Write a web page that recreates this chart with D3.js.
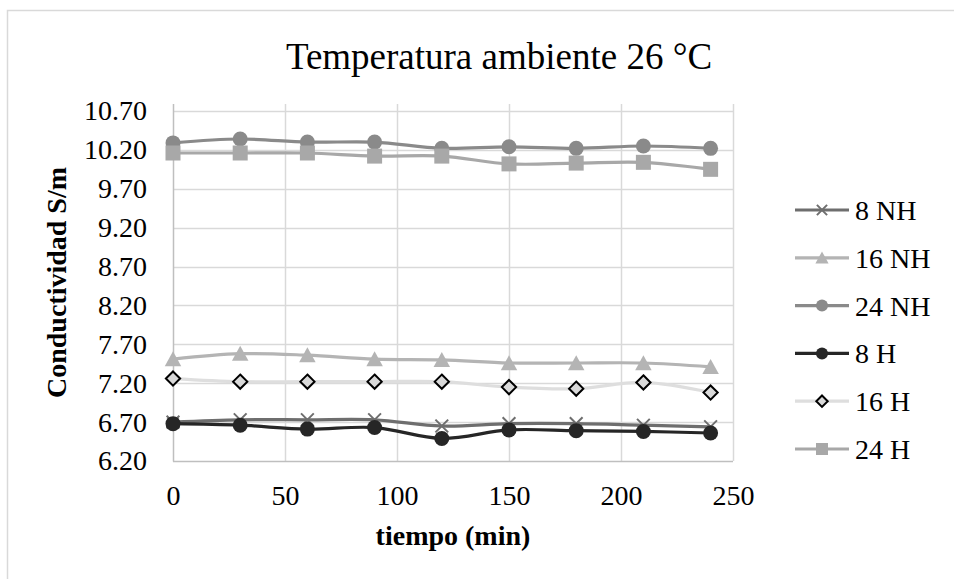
<!DOCTYPE html>
<html>
<head>
<meta charset="utf-8">
<script src="https://cdn.jsdelivr.net/npm/d3@7"></script>
<style>
  html, body { margin: 0; padding: 0; background: #fff; }
</style>
</head>
<body>
<svg id="chart" width="954" height="579"></svg>
<script>
// Conductividad vs tiempo, temperatura ambiente 26 °C
const tiempo = [0, 30, 60, 90, 120, 150, 180, 210, 240];

const serie8NH  = [6.70, 6.73, 6.73, 6.73, 6.65, 6.68, 6.68, 6.66, 6.64];
const serie16NH = [7.51, 7.58, 7.56, 7.51, 7.50, 7.46, 7.46, 7.46, 7.41];
const serie24NH = [10.29, 10.34, 10.30, 10.30, 10.22, 10.24, 10.22, 10.25, 10.22];
const serie8H   = [6.68, 6.66, 6.61, 6.63, 6.49, 6.60, 6.59, 6.58, 6.56];
const serie16H  = [7.26, 7.22, 7.22, 7.22, 7.22, 7.15, 7.13, 7.21, 7.08];
const serie24H  = [10.16, 10.16, 10.16, 10.12, 10.12, 10.02, 10.03, 10.04, 9.95];

const nombres = ["8 NH", "16 NH", "24 NH", "8 H", "16 H", "24 H"];
const yTicks = [6.20, 6.70, 7.20, 7.70, 8.20, 8.70, 9.20, 9.70, 10.20, 10.70];
const xTicks = [0, 50, 100, 150, 200, 250];

const series = [
  { name: nombres[0], values: serie8NH,  line: "#6e6e6e", marker: "cross" },
  { name: nombres[1], values: serie16NH, line: "#b4b4b4", marker: "triangle" },
  { name: nombres[2], values: serie24NH, line: "#8a8a8a", marker: "circle", fill: "#8a8a8a" },
  { name: nombres[3], values: serie8H,   line: "#262626", marker: "circle", fill: "#262626" },
  { name: nombres[4], values: serie16H,  line: "#dedede", marker: "diamond" },
  { name: nombres[5], values: serie24H,  line: "#a8a8a8", marker: "square", fill: "#a8a8a8" }
];

const FONT = "'Liberation Serif', 'Times New Roman', Times, serif";
const svg = d3.select("#chart");

// chart frame
svg.append("rect").attr("x", 7.5).attr("y", 10.5).attr("width", 1000).attr("height", 1000)
  .attr("fill", "none").attr("stroke", "#d9d9d9").attr("stroke-width", 1.5);

const plot = { left: 173, right: 733, top: 104, bottom: 461 };

const x = d3.scaleLinear().domain([0, 250]).range([plot.left, plot.right]);
const y = d3.scaleLinear().domain([6.20, 10.79]).range([plot.bottom, plot.top]);

// gridlines
svg.append("g").selectAll("line").data(yTicks.slice(1)).join("line")
  .attr("x1", plot.left).attr("x2", plot.right)
  .attr("y1", d => Math.round(y(d)) + 0.5).attr("y2", d => Math.round(y(d)) + 0.5)
  .attr("stroke", "#d9d9d9").attr("stroke-width", 1.5);
svg.append("g").selectAll("line").data(xTicks.slice(1)).join("line")
  .attr("x1", d => Math.round(x(d)) + 0.5).attr("x2", d => Math.round(x(d)) + 0.5)
  .attr("y1", plot.top).attr("y2", plot.bottom)
  .attr("stroke", "#d9d9d9").attr("stroke-width", 1.5);

// axes
const yAxis = d3.axisLeft(y).tickValues(yTicks).tickFormat(d3.format(".2f")).tickSize(0).tickPadding(26);
const gy = svg.append("g").attr("transform", `translate(${plot.left},0)`).call(yAxis)
  .attr("font-family", FONT).attr("font-size", 28);
gy.select(".domain").attr("stroke", "#bfbfbf").attr("stroke-width", 1.5).attr("d", `M0.5,${plot.top}V${plot.bottom + 0.5}`);
gy.selectAll("text").attr("fill", "#000");

const xAxis = d3.axisBottom(x).tickValues(xTicks).tickSize(0).tickPadding(24);
const gx = svg.append("g").attr("transform", `translate(0,${plot.bottom})`).call(xAxis)
  .attr("font-family", FONT).attr("font-size", 28);
gx.select(".domain").attr("stroke", "#bfbfbf").attr("stroke-width", 1.5).attr("d", `M${plot.left},0.5H${plot.right}`);
gx.selectAll("text").attr("fill", "#000");

// titles
svg.append("text").attr("x", 499).attr("y", 69).attr("text-anchor", "middle")
  .attr("font-family", FONT).attr("font-size", 37).text("Temperatura ambiente 26 °C");
svg.append("text").attr("x", 453).attr("y", 545).attr("text-anchor", "middle")
  .attr("font-family", FONT).attr("font-size", 28).attr("font-weight", "bold").text("tiempo (min)");
svg.append("text").attr("transform", `translate(66,${(plot.top + plot.bottom) / 2}) rotate(-90)`)
  .attr("text-anchor", "middle").attr("font-family", FONT).attr("font-size", 28)
  .attr("font-weight", "bold").text("Conductividad S/m");

// markers
function drawMarker(g, s, size) {
  const r = size / 2;
  if (s.marker === "circle") {
    g.append("circle").attr("r", r).attr("fill", s.fill);
  } else if (s.marker === "square") {
    g.append("rect").attr("x", -r).attr("y", -r).attr("width", size).attr("height", size).attr("fill", s.fill);
  } else if (s.marker === "triangle") {
    g.append("path").attr("d", `M0,${-r * 1.05}L${r * 1.1},${r * 0.95}L${-r * 1.1},${r * 0.95}Z`).attr("fill", s.line);
  } else if (s.marker === "diamond") {
    const d = r * 0.95;
    g.append("path").attr("d", `M0,${-d}L${d},0L0,${d}L${-d},0Z`)
      .attr("fill", "#d9d9d9").attr("stroke", "#000").attr("stroke-width", 2);
  } else if (s.marker === "cross") {
    const c = r * 0.85;
    g.append("path").attr("d", `M${-c},${-c}L${c},${c}M${-c},${c}L${c},${-c}`)
      .attr("stroke", s.line).attr("stroke-width", 2).attr("fill", "none");
  }
}

const line = d3.line().x(d => x(d[0])).y(d => y(d[1])).curve(d3.curveCatmullRom.alpha(0.5));

series.forEach(s => {
  const pts = tiempo.map((t, i) => [t, s.values[i]]);
  const g = svg.append("g");
  g.append("path").datum(pts).attr("d", line)
    .attr("fill", "none").attr("stroke", s.line).attr("stroke-width", 3.2).attr("stroke-linecap", "round");
  pts.forEach(p => {
    const m = g.append("g").attr("transform", `translate(${x(p[0])},${y(p[1])})`);
    drawMarker(m, s, 15);
  });
});

// legend
const legY = d3.scaleLinear().domain([0, 5]).range([210, 449]);
series.forEach((s, i) => {
  const g = svg.append("g").attr("transform", `translate(0,${legY(i)})`);
  g.append("line").attr("x1", 795).attr("x2", 849).attr("y1", 0).attr("y2", 0)
    .attr("stroke", s.line).attr("stroke-width", 3.2);
  const m = g.append("g").attr("transform", "translate(822,0)");
  drawMarker(m, s, 12);
  g.append("text").attr("x", 855).attr("y", 10).attr("font-family", FONT).attr("font-size", 28).text(s.name);
});
</script>
</body>
</html>
